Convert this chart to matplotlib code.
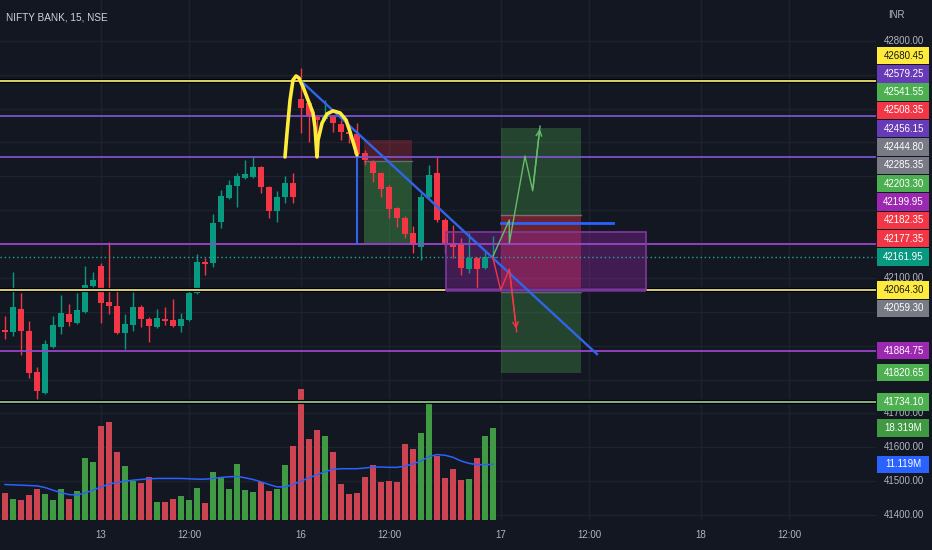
import matplotlib
matplotlib.use('Agg')
import matplotlib.pyplot as plt
import matplotlib.patheffects as pe
from matplotlib.patches import Rectangle
from matplotlib.transforms import blended_transform_factory as btf

W, H = 932, 550
BG = '#131722'
GRID = '#1e222d'
TXT = '#b2b5be'
UP, DN = '#089981', '#f23645'
VUP, VDN = '#3f9a43', '#cc4452'
FONT = ['Liberation Sans', 'DejaVu Sans']
FS = 7

# ---------------- data (NIFTY BANK 15m) ----------------
opens = [41946, 41940, 42008, 41943, 41822, 41760, 41896, 41955, 41993, 41967,
         41999, 42076, 42135, 42029, 42017, 41937, 41961, 42014, 41979, 41955,
         41979, 41976, 41958, 41976, 42055, 42147, 42144, 42265, 42336, 42371,
         42395, 42398, 42427, 42368, 42297, 42339, 42380, 42628, 42616, 42575,
         42569, 42575, 42554, 42531, 42525, 42469, 42442, 42410, 42368, 42306,
         42277, 42233, 42191, 42339, 42410, 42271, 42203, 42200, 42126, 42159,
         42129, 42158]
highs = [41988, 42117, 42055, 41973, 41837, 41917, 41988, 42049, 42023, 42055,
         42135, 42117, 42144, 42206, 42070, 41993, 42058, 42020, 41985, 42008,
         42014, 42038, 41996, 42070, 42170, 42159, 42289, 42359, 42389, 42410,
         42448, 42457, 42430, 42371, 42356, 42401, 42410, 42720, 42625, 42581,
         42625, 42581, 42566, 42542, 42557, 42478, 42448, 42413, 42374, 42309,
         42283, 42253, 42351, 42433, 42457, 42277, 42256, 42218, 42232, 42162,
         42176, 42224]
lows = [41920, 41928, 41872, 41804, 41742, 41757, 41893, 41934, 41958, 41965,
        41996, 42073, 41967, 41993, 41934, 41890, 41943, 41955, 41911, 41952,
        41961, 41955, 41940, 41973, 42052, 42108, 42132, 42247, 42333, 42309,
        42392, 42395, 42351, 42277, 42265, 42321, 42321, 42528, 42501, 42463,
        42566, 42531, 42507, 42498, 42457, 42433, 42383, 42339, 42277, 42250,
        42218, 42173, 42153, 42336, 42265, 42173, 42159, 42108, 42114, 42070,
        42126, 42155]
closes = [41940, 42014, 41943, 41819, 41766, 41905, 41961, 41996, 41970, 42005,
          42079, 42094, 42026, 42017, 41937, 41964, 42014, 41979, 41958, 41982,
          41973, 41958, 41979, 42055, 42147, 42141, 42262, 42342, 42374, 42401,
          42407, 42427, 42368, 42297, 42339, 42380, 42339, 42601, 42575, 42566,
          42575, 42557, 42531, 42525, 42466, 42448, 42410, 42362, 42303, 42277,
          42230, 42197, 42339, 42404, 42271, 42203, 42191, 42129, 42159, 42126,
          42162, 42161.95]
volumes = [5.46, 4.33, 4.13, 5.00, 6.26, 5.33, 4.13, 6.26, 4.33, 5.80,
           12.32, 11.66, 18.79, 19.58, 13.66, 10.79, 7.79, 7.46, 8.66, 3.66,
           3.66, 4.33, 4.80, 4.13, 6.53, 3.46, 9.53, 8.46, 6.26, 11.19,
           6.00, 5.60, 7.66, 5.86, 6.26, 10.99, 14.66, 26.11, 16.19, 17.85,
           16.79, 13.66, 7.19, 5.20, 5.46, 8.66, 10.99, 7.59, 7.86, 7.59,
           15.12, 14.26, 17.32, 23.58, 12.79, 8.46, 10.13, 7.99, 8.19, 12.32,
           16.79, 18.319]
vol_ma = [7.13, 7.06, 7.00, 6.93, 6.86, 6.53, 6.00, 5.53, 5.13, 5.06,
          5.46, 6.00, 6.66, 7.19, 7.53, 7.79, 7.99, 8.13, 8.26, 8.33,
          8.33, 8.33, 8.33, 8.26, 8.19, 8.19, 8.33, 8.53, 8.66, 8.73,
          8.46, 8.13, 7.66, 7.13, 6.66, 6.66, 7.13, 7.79, 8.46, 9.06,
          9.66, 10.13, 10.26, 10.26, 10.26, 10.39, 10.59, 10.59, 10.53, 10.53,
          10.79, 11.19, 11.79, 12.66, 13.06, 12.92, 12.52, 11.79, 11.32, 11.06,
          11.06, 11.119]

price_ticks = [41400, 41500, 41600, 41700, 41800, 41900, 42000, 42100,
               42200, 42300, 42400, 42500, 42600, 42700, 42800]
time_tick_bars = [12, 23, 37, 48, 62, 73, 87, 98]
time_tick_labels = ['13', '12:00', '16', '12:00', '17', '12:00', '18', '12:00']

levels = [42680.45, 42579.25, 42456.15, 42199.95, 42064.30, 41884.75, 41734.10]
level_colors = ['#efe36c', '#7b52c9', '#7b52c9', '#9a45c8', '#e6dc86', '#9a45c8', '#8cc08e']
level_label_colors = ['#ffeb3b', '#673ab7', '#673ab7', '#9c27b0', '#ffeb3b', '#9c27b0', '#4caf50']
level_outline = [True, False, False, False, True, False, True]

# short position (first) and long/short pair (second)
pos1_stop, pos1_entry, pos1_target = 42508.35, 42444.80, 42203.30
pos2_target_up, pos2_entry, pos2_stop, pos2_target_dn = 42541.55, 42285.35, 42059.30, 41820.65
extra_labels = [42182.35, 42177.35]

# drawings (bar index, price)
hs_x = [35.0, 35.25, 35.63, 36.0, 36.38, 36.75, 37.25, 37.88, 38.5, 38.75, 39.0,
        39.13, 39.63, 40.25, 41.0, 41.88, 42.63, 43.13, 43.63, 44.0]
hs_p = [42457, 42528, 42625, 42684, 42696, 42690, 42664, 42625, 42587, 42545, 42457,
        42507, 42557, 42584, 42593, 42587, 42566, 42531, 42492, 42463]
trend_x, trend_p = [36.6, 74.0], [42690, 41875]
vert_x, vert_p = [44.06, 44.06], [42457, 42200]
hline_x, hline_p = [62.0, 76.0], [42263, 42263]
rect_x, rect_p = [55.1, 80.1], [42064.3, 42235]
green_path_x = [60.96, 63.04, 63.04, 65.0, 65.96, 66.88]
green_path_p = [42162, 42271, 42203, 42460, 42357, 42548]
red_path_x = [60.96, 61.96, 63.04, 63.96]
red_path_p = [42162, 42064, 42126, 41941]

# ---------------- figure ----------------
fig = plt.figure(figsize=(W / 100, H / 100), dpi=100, facecolor=BG)
rect = [0, 29 / H, 876 / W, 521 / H]
axv = fig.add_axes(rect, zorder=0)
ax = fig.add_axes(rect, zorder=1)
for a in (ax, axv):
    a.set_xlim(-0.625, 108.875)
    a.axis('off')
ax.set_ylim(41382.3, 42920.3)
axv.set_ylim(-0.1, 103.1)

idx = list(range(len(opens)))

# grid
for t in time_tick_bars:
    axv.axvline(t, color=GRID, lw=1, zorder=0)
gt = btf(axv.transAxes, ax.transData)
for p in price_ticks:
    axv.plot([0, 1], [p, p], transform=gt, color=GRID, lw=1, zorder=0)

# volume
vcols = [VUP if c >= o else VDN for o, c in zip(opens, closes)]
axv.bar(idx, volumes, width=0.82, color=vcols, zorder=2)
axv.plot(idx, vol_ma, color='#2962ff', lw=1.1, zorder=3)

# position boxes / rectangle (below candles)
def box(x0, x1, p0, p1, color, alpha, z=1):
    ax.add_patch(Rectangle((x0, min(p0, p1)), x1 - x0, abs(p1 - p0),
                           facecolor=color, alpha=alpha, lw=0, zorder=z))

box(44.9, 50.9, pos1_entry, pos1_stop, '#f23645', 0.25)
box(44.9, 50.9, pos1_target, pos1_entry, '#4caf50', 0.38)
ax.plot([44.9, 50.9], [pos1_entry, pos1_entry], color='#787b86', lw=1, alpha=0.7, zorder=1.2)
box(62.0, 72.0, pos2_entry, pos2_target_up, '#4caf50', 0.3)
box(62.0, 72.0, pos2_stop, pos2_entry, '#f23645', 0.4)
box(62.0, 72.0, pos2_target_dn, pos2_stop, '#4caf50', 0.3)
for p in (pos2_entry, pos2_stop):
    ax.plot([62.0, 72.0], [p, p], color='#9598a1', lw=1, alpha=0.6, zorder=1.2)
ax.add_patch(Rectangle((rect_x[0], rect_p[0]), rect_x[1] - rect_x[0], rect_p[1] - rect_p[0],
                       facecolor='#9c27b0', alpha=0.34, edgecolor='none', zorder=1.1))

# candles
ccols = [UP if c >= o else DN for o, c in zip(opens, closes)]
ax.vlines(idx, lows, highs, colors=ccols, lw=1, zorder=3)
bodies = [max(abs(c - o), 3) for o, c in zip(opens, closes)]
bottoms = [min(o, c) for o, c in zip(opens, closes)]
ax.bar(idx, bodies, bottom=bottoms, width=0.7, color=ccols, zorder=3.1)

# horizontal levels
for lv, col, outl in zip(levels, level_colors, level_outline):
    kw = {}
    if outl:
        kw['path_effects'] = [pe.Stroke(linewidth=3, foreground='#000000'), pe.Normal()]
    ax.axhline(lv, color=col, lw=1.3, zorder=4, **kw)
ax.axhline(closes[-1], color='#26a69a', lw=1, ls=(0, (1, 2)), zorder=4)

# rectangle border drawn over the level line it sits on
ax.add_patch(Rectangle((rect_x[0], rect_p[0]), rect_x[1] - rect_x[0], rect_p[1] - rect_p[0],
                       facecolor='none', edgecolor='#7e3a9e', lw=1.2, zorder=4.5))
ax.plot(rect_x, [rect_p[0], rect_p[0]], color='#5a2c78', lw=3, zorder=4.4, solid_capstyle='butt')

# drawings
ax.plot(hline_x, hline_p, color='#2962ff', lw=2, zorder=1.05)
ax.plot(trend_x, trend_p, color='#2f66e8', lw=1.7, zorder=5)
ax.plot(vert_x, vert_p, color='#2f66e8', lw=1.5, zorder=5)
ax.plot(hs_x, hs_p, color='#ffeb3b', lw=2.6, zorder=6, solid_capstyle='round', solid_joinstyle='round')
ax.plot(green_path_x, green_path_p, color='#66bb6a', lw=1, zorder=5)
ax.annotate('', xy=(green_path_x[-1], green_path_p[-1]), xytext=(green_path_x[-2], green_path_p[-2]),
            arrowprops=dict(arrowstyle='->', color='#66bb6a', lw=1, mutation_scale=10), zorder=5)
ax.plot(red_path_x, red_path_p, color='#f23645', lw=1, zorder=5)
ax.annotate('', xy=(red_path_x[-1], red_path_p[-1]), xytext=(red_path_x[-2], red_path_p[-2]),
            arrowprops=dict(arrowstyle='->', color='#f23645', lw=1, mutation_scale=10), zorder=5)

# ---------------- texts ----------------
fig.text(6 / W, 1 - 18 / H, 'NIFTY BANK, 15, NSE', color='#d1d4dc', fontsize=7.2,
         va='center', ha='left', family=FONT)
fig.text(896 / W, 1 - 15 / H, 'INR', color=TXT, fontsize=FS, va='center', ha='center', family=FONT)

def ypix(p):
    return ax.transData.transform((0, p))[1]

for t, lab in zip(time_tick_bars, time_tick_labels):
    xp = ax.transData.transform((t, 0))[0]
    fig.text(xp / W, 1 - 535 / H, lab, color=TXT, fontsize=FS, ha='center', va='center', family=FONT)

# price labels with stacking
labels = []
for lv, lc in zip(levels, level_label_colors):
    labels.append((lv, lc, '#131722' if lc == '#ffeb3b' else '#ffffff'))
labels += [(pos1_stop, '#f23645', '#ffffff'), (pos1_entry, '#787b86', '#ffffff'),
           (pos1_target, '#4caf50', '#ffffff'), (pos2_target_up, '#4caf50', '#ffffff'),
           (pos2_entry, '#787b86', '#ffffff'), (pos2_stop, '#787b86', '#ffffff'),
           (pos2_target_dn, '#4caf50', '#ffffff')]
labels += [(v, '#f23645', '#ffffff') for v in extra_labels]

LH = 18.3
anchor = ypix(closes[-1])
placed = [(anchor, closes[-1], '#089981', '#ffffff')]
above = sorted([l for l in labels if ypix(l[0]) > anchor], key=lambda l: ypix(l[0]))
below = sorted([l for l in labels if ypix(l[0]) <= anchor], key=lambda l: -ypix(l[0]))
prev = anchor
for l in above:
    prev = max(ypix(l[0]), prev + LH)
    placed.append((prev,) + l)
prev = anchor
for l in below:
    prev = min(ypix(l[0]), prev - LH)
    placed.append((prev,) + l)

vt = axv.transData
vol_labels = [(vt.transform((0, volumes[-1]))[1], f'{volumes[-1]:.3f}M', VUP),
              (vt.transform((0, vol_ma[-1]))[1], f'{vol_ma[-1]:.3f}M', '#2962ff')]

box_ys = [y for y, *_ in placed] + [y for y, *_ in vol_labels]

# axis tick labels (those covered by a price label box are hidden, as in the app)
for p in price_ticks:
    yp = ypix(p)
    if all(abs(yp - by) >= 11 for by in box_ys):
        fig.text(903.5 / W, yp / H, f'{p:.2f}', color=TXT, fontsize=FS,
                 ha='center', va='center', family=FONT, zorder=2)

def draw_label(y, txt, bg, fg):
    fig.add_artist(Rectangle((877 / W, (y - 8.7) / H), 52 / W, 17.4 / H, transform=fig.transFigure,
                             facecolor=bg, edgecolor='none', zorder=10))
    fig.text(903.5 / W, y / H, txt, color=fg, fontsize=FS, ha='center', va='center',
             family=FONT, zorder=11)

for y, v, bg, fg in placed:
    draw_label(y, f'{v:.2f}', bg, fg)
for y, txt, bg in vol_labels:
    draw_label(y, txt, bg, '#ffffff')

fig.savefig('out.png', dpi=100, facecolor=BG)
